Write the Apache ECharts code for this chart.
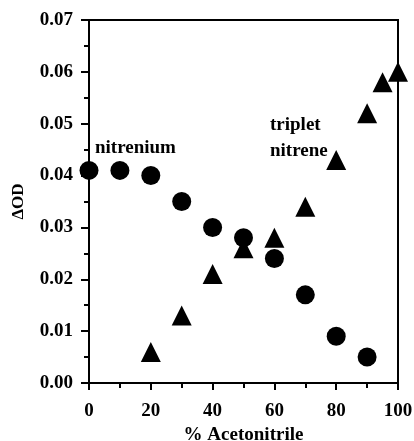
<!DOCTYPE html>
<html lang="en">
<head>
    <meta charset="UTF-8">
    <title>dOD vs acetonitrile</title>
    <script src="https://cdn.jsdelivr.net/npm/echarts@6/dist/echarts.min.js"></script>
    <style>
        html, body { margin: 0; padding: 0; background: #fff; }
        #main { width: 414px; height: 441px; }
    </style>
</head>
<body>
<div id="main"></div>
<script type="text/javascript">
    // values
    var nitreniumX = [0, 10, 20, 30, 40, 50, 60, 70, 80, 90];
    var nitreniumY = [0.041, 0.041, 0.040, 0.035, 0.030, 0.028, 0.024, 0.017, 0.009, 0.005];
    var tripletX = [20, 30, 40, 50, 60, 70, 80, 90, 95, 100];
    var tripletY = [0.006, 0.013, 0.021, 0.026, 0.028, 0.034, 0.043, 0.052, 0.058, 0.060];

    var font = 'Liberation Serif';

    function pairs(xs, ys) {
        var out = [];
        for (var i = 0; i < xs.length; i++) out.push([xs[i], ys[i]]);
        return out;
    }

    var myChart = echarts.init(document.getElementById('main'));

    var labelStyle = {color: '#000', fontFamily: font, fontWeight: 'bold', fontSize: 19};
    var noteFont = 'bold 19px "Liberation Serif"';

    var option = {
        animation: false,
        grid: {
            left: 89, right: 16, top: 20, bottom: 58,
            outerBoundsMode: 'none',
            containLabel: false,
            show: true, borderColor: '#000', borderWidth: 2
        },
        xAxis: {
            type: 'value',
            min: 0, max: 100, interval: 20,
            name: '% Acetonitrile',
            nameLocation: 'middle',
            nameGap: 42,
            nameTextStyle: {color: '#000', fontFamily: font, fontWeight: 'bold', fontSize: 19},
            axisLine: {lineStyle: {color: '#000', width: 2}},
            axisTick: {length: 7, lineStyle: {color: '#000', width: 2}},
            minorTick: {show: true, splitNumber: 2, length: 5, lineStyle: {color: '#000', width: 2}},
            splitLine: {show: false},
            axisLabel: Object.assign({margin: 19}, labelStyle)
        },
        yAxis: {
            type: 'value',
            min: 0, max: 0.07, interval: 0.01,
            name: 'ΔOD',
            nameLocation: 'middle',
            nameGap: 62,
            nameRotate: 90,
            nameTextStyle: {color: '#000', fontFamily: font, fontWeight: 'bold', fontSize: 17},
            axisLine: {lineStyle: {color: '#000', width: 2}},
            axisTick: {length: 8, lineStyle: {color: '#000', width: 2}},
            minorTick: {show: true, splitNumber: 2, length: 5, lineStyle: {color: '#000', width: 2}},
            splitLine: {show: false},
            axisLabel: Object.assign({
                margin: 16,
                formatter: function (v) { return v.toFixed(2); }
            }, labelStyle)
        },
        graphic: [
            {type: 'text', left: 95, top: 139, style: {text: 'nitrenium', fill: '#000', font: noteFont}},
            {type: 'text', left: 270, top: 116, style: {text: 'triplet', fill: '#000', font: noteFont}},
            {type: 'text', left: 270, top: 142, style: {text: 'nitrene', fill: '#000', font: noteFont}}
        ],
        series: [
            {
                name: 'nitrenium',
                type: 'scatter',
                symbol: 'circle',
                symbolSize: 19,
                itemStyle: {color: '#000', opacity: 1},
                data: pairs(nitreniumX, nitreniumY)
            },
            {
                name: 'triplet nitrene',
                type: 'scatter',
                symbol: 'triangle',
                symbolSize: 20,
                itemStyle: {color: '#000', opacity: 1},
                data: pairs(tripletX, tripletY)
            }
        ]
    };

    myChart.setOption(option);
</script>
</body>
</html>
